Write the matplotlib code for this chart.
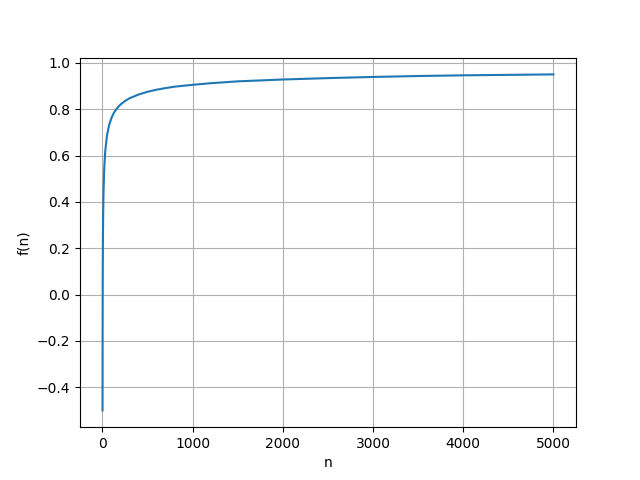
import matplotlib
matplotlib.use('Agg')
import matplotlib.pyplot as plt

# values
n_vals = [1, 2, 3, 4, 5, 6, 8, 12, 20, 30, 50, 75, 100, 125, 150, 175, 200,
          250, 300, 400, 500, 600, 700, 800, 1000, 1200, 1500, 1750, 2000,
          2500, 3000, 3500, 4000, 4500, 5000]
f_vals = [-0.500, -0.137, 0.033, 0.138, 0.212, 0.267, 0.347, 0.445, 0.547,
          0.615, 0.686, 0.733, 0.762, 0.783, 0.798, 0.810, 0.820, 0.835,
          0.847, 0.863, 0.875, 0.884, 0.891, 0.897, 0.905, 0.912, 0.920,
          0.924, 0.928, 0.934, 0.939, 0.943, 0.946, 0.948, 0.950]

fig, ax = plt.subplots(figsize=(6.4, 4.8), dpi=100)
ax.plot(n_vals, f_vals)
ax.set_xlabel('n')
ax.set_ylabel('f(n)')
ax.grid(True)
fig.savefig('out.png')
